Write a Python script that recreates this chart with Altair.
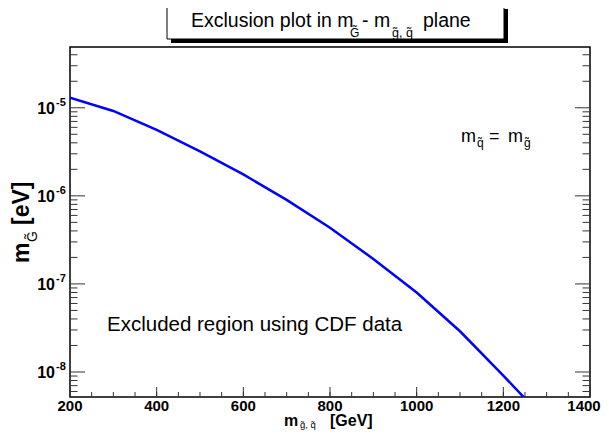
import altair as alt
import pandas as pd

# ---- data ----
mass_gev = [200, 300, 400, 500, 600, 700, 800, 900, 1000, 1100, 1200, 1250]
m_gravitino_ev = [1.30e-5, 9.2e-6, 5.6e-6, 3.2e-6, 1.75e-6, 9.0e-7, 4.35e-7,
                  1.92e-7, 8.0e-8, 2.9e-8, 9.1e-9, 5.0e-9]

x_tick_labels = [200, 400, 600, 800, 1000, 1200, 1400]
x_minor_ticks = list(range(250, 1400, 50))
y_decades = [1e-8, 1e-7, 1e-6, 1e-5]
y_exponents = ["-8", "-7", "-6", "-5"]

X_DOMAIN = [200, 1400]
Y_DOMAIN = [5.2e-9, 4.9e-5]

W, H = 520, 350
FONT = "Liberation Sans"

y_minor = [m * 10.0 ** k for k in range(-9, -3) for m in range(2, 10)]
y_minor = [v for v in y_minor if Y_DOMAIN[0] <= v <= Y_DOMAIN[1]]

xs = alt.Scale(domain=X_DOMAIN, nice=False, zero=False)
ys = alt.Scale(type="log", domain=Y_DOMAIN, nice=False)

curve = pd.DataFrame({"m": mass_gev, "g": m_gravitino_ev})
dec_df = pd.DataFrame({"v": y_decades, "e": y_exponents})
ymin_df = pd.DataFrame({"v": y_minor})
xmaj_df = pd.DataFrame({"x": x_tick_labels, "lab": [str(v) for v in x_tick_labels]})
xmin_df = pd.DataFrame({"x": x_minor_ticks})

line = alt.Chart(curve).mark_line(color="#0000ff", strokeWidth=2.5, clip=True).encode(
    x=alt.X("m:Q", scale=xs, axis=None),
    y=alt.Y("g:Q", scale=ys, axis=None),
)

tick_color = "#333333"

def yrule(df, x0, x1):
    return alt.Chart(df).mark_rule(color=tick_color, strokeWidth=1).encode(
        y=alt.Y("v:Q", scale=ys, axis=None), x=alt.value(x0), x2=alt.value(x1))

def xrule(df, y0, y1):
    return alt.Chart(df).mark_rule(color=tick_color, strokeWidth=1).encode(
        x=alt.X("x:Q", scale=xs, axis=None), y=alt.value(y0), y2=alt.value(y1))

ticks = [
    yrule(dec_df, 0, 15), yrule(ymin_df, 0, 7.5),
    yrule(dec_df, W, W - 15), yrule(ymin_df, W, W - 7.5),
    xrule(xmaj_df, H, H - 10), xrule(xmin_df, H, H - 5),
]

def xlab_layer(dx, keep_last):
    cond = "datum.x == 1400" if keep_last else "datum.x != 1400"
    return alt.Chart(xmaj_df).transform_filter(cond).mark_text(
        font=FONT, fontWeight="bold", fontSize=15, align="center", baseline="top",
        color="black", dx=dx
    ).encode(x=alt.X("x:Q", scale=xs, axis=None), y=alt.value(H + 2), text="lab:N")

xlabels = [xlab_layer(0, False), xlab_layer(-6, True)]

ylab10 = alt.Chart(dec_df).mark_text(
    font=FONT, fontWeight="bold", fontSize=16, align="right", baseline="middle", dy=1
).encode(y=alt.Y("v:Q", scale=ys, axis=None), x=alt.value(-15), text=alt.value("10"))
ylabexp = alt.Chart(dec_df).mark_text(
    font=FONT, fontWeight="bold", fontSize=11, align="left", baseline="middle", dy=-5
).encode(y=alt.Y("v:Q", scale=ys, axis=None), x=alt.value(-14), text="e:N")

def txt(s, x, y, size, weight="normal", angle=0, align="left", baseline="alphabetic"):
    return alt.Chart(pd.DataFrame({"t": [s]})).mark_text(
        font=FONT, fontSize=size, fontWeight=weight, angle=angle, align=align,
        baseline=baseline, color="black"
    ).encode(x=alt.value(x), y=alt.value(y), text="t:N")

def rect(x0, x1, y0, y1, fill, stroke=None):
    kw = dict(fill=fill)
    if stroke:
        kw.update(stroke=stroke, strokeWidth=1)
    return alt.Chart(pd.DataFrame({"a": [0]})).mark_rect(**kw).encode(
        x=alt.value(x0), x2=alt.value(x1), y=alt.value(y0), y2=alt.value(y1))

# offsets relative to the plot origin (page x 70, page y 47)
OX, OY = 70, 47
title_parts = [
    rect(171 - OX, 508 - OX, 9 - OY, 43 - OY, "black"),
    rect(167 - OX, 504 - OX, 5 - OY, 39 - OY, "white", "black"),
    txt("Exclusion plot in m", 191 - OX, 27 - OY, 19.5),
    txt("G\u0303", 350 - OX, 37 - OY, 12),
    txt("- m", 362 - OX, 27 - OY, 19.5),
    txt("g\u0303, q\u0303", 392 - OX, 37 - OY, 12.5),
    txt("plane", 423 - OX, 27 - OY, 19.5),
]

ytitle = [
    txt("m", 29 - OX, 263 - OY, 23, "bold", 270),
    txt("G\u0303", 37 - OX, 242 - OY, 14, "normal", 270),
    txt("[eV]", 29 - OX, 225 - OY, 23, "bold", 270),
]

xtitle = [
    txt("m", 284 - OX, 426 - OY, 16, "bold"),
    txt("g\u0303, q\u0303", 300 - OX, 428 - OY, 9.5),
    txt("[GeV]", 330 - OX, 426 - OY, 16, "bold"),
]

annot = [
    txt("m", 461 - OX, 142 - OY, 18),
    txt("q\u0303", 477 - OX, 147 - OY, 12),
    txt("=", 489 - OX, 142 - OY, 18),
    txt("m", 508 - OX, 142 - OY, 18),
    txt("g\u0303", 524 - OX, 147 - OY, 12),
    txt("Excluded region using CDF data", 107 - OX, 331 - OY, 20.5),
]

chart = alt.layer(
    line, *ticks, *xlabels, ylab10, ylabexp, *title_parts, *ytitle, *xtitle, *annot
).properties(
    width=W, height=H,
    autosize=alt.AutoSizeParams(type="none"),
    padding={"left": 62, "top": 39, "right": 11, "bottom": 33},
    background="white",
).configure_view(stroke="black", strokeWidth=1.5)

chart.save("out.html", embed_options={"renderer": "svg", "actions": False})
